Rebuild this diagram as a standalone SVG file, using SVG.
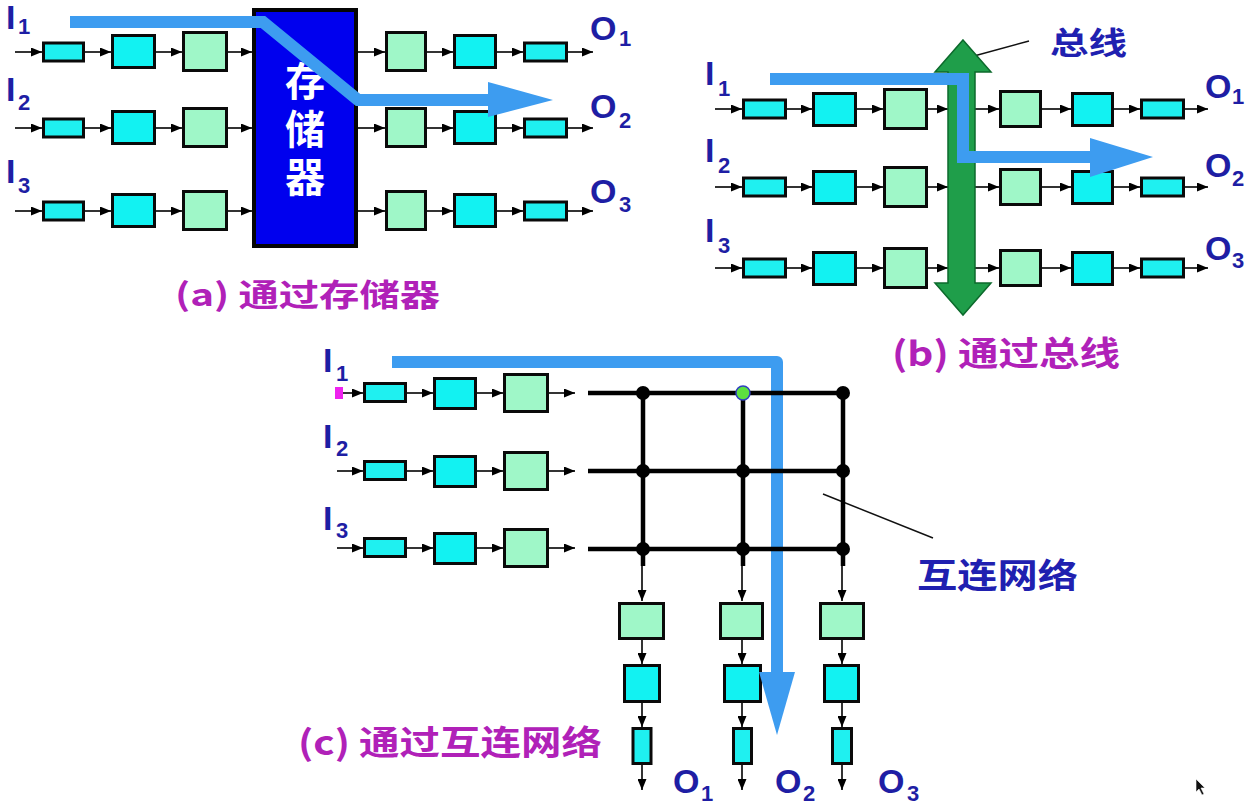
<svg xmlns="http://www.w3.org/2000/svg" width="1255" height="812" viewBox="0 0 1255 812">
<defs>
<marker id="ah" markerWidth="11" markerHeight="9" refX="11" refY="4.5" orient="auto" markerUnits="userSpaceOnUse"><path d="M0,0 L11,4.5 L0,9 z" fill="#000"/></marker>
</defs>
<style>
.ar line{stroke:#000;stroke-width:1.6;fill:none;marker-end:url(#ah)}
.sm{fill:#1ff0f0;stroke:#0a0a0a;stroke-width:3}
.cy{fill:#12f2f2;stroke:#0a0a0a;stroke-width:3}
.gr{fill:#9ff7c8;stroke:#0a0a0a;stroke-width:3}
.lbl{font-family:"Liberation Sans",Arial,sans-serif;font-weight:bold;fill:#1e1ea4}
.big{font-size:34px}
.sub{font-size:22px}
.cap{font-family:"Noto Sans CJK SC","Liberation Sans",sans-serif;font-weight:bold;fill:#b021b8}
.blu{font-family:"Noto Sans CJK SC","Liberation Sans",sans-serif;font-weight:bold;fill:#2020b0}
.flow{fill:none;stroke:#3d9cf0;stroke-width:12}
.gl{stroke:#000;stroke-width:4.5;fill:none}
.dot{fill:#000}
.thin{stroke:#111;stroke-width:1.5;fill:none}
</style>

<g id="connectors">
<g class="ar">
<!-- panel a -->
<line x1="15" y1="52" x2="42" y2="52"/><line x1="85" y1="52" x2="111" y2="52"/><line x1="156" y1="52" x2="182" y2="52"/><line x1="228" y1="52" x2="252" y2="52"/>
<line x1="358" y1="52" x2="385" y2="52"/><line x1="427" y1="52" x2="453" y2="52"/><line x1="497" y1="52" x2="523" y2="52"/><line x1="568" y1="52" x2="593" y2="52"/>
<line x1="15" y1="128" x2="42" y2="128"/><line x1="85" y1="128" x2="111" y2="128"/><line x1="156" y1="128" x2="182" y2="128"/><line x1="228" y1="128" x2="252" y2="128"/>
<line x1="358" y1="128" x2="385" y2="128"/><line x1="427" y1="128" x2="453" y2="128"/><line x1="497" y1="128" x2="523" y2="128"/><line x1="568" y1="128" x2="593" y2="128"/>
<line x1="15" y1="211" x2="42" y2="211"/><line x1="85" y1="211" x2="111" y2="211"/><line x1="156" y1="211" x2="182" y2="211"/><line x1="228" y1="211" x2="252" y2="211"/>
<line x1="358" y1="211" x2="385" y2="211"/><line x1="427" y1="211" x2="453" y2="211"/><line x1="497" y1="211" x2="523" y2="211"/><line x1="568" y1="211" x2="593" y2="211"/>
<!-- panel b -->
<line x1="715" y1="109" x2="742" y2="109"/><line x1="787" y1="109" x2="812" y2="109"/><line x1="857" y1="109" x2="883" y2="109"/><line x1="928" y1="109" x2="948" y2="109"/>
<line x1="975" y1="109" x2="999" y2="109"/><line x1="1042" y1="109" x2="1071" y2="109"/><line x1="1114" y1="109" x2="1140" y2="109"/><line x1="1185" y1="109" x2="1208" y2="109"/>
<line x1="715" y1="187" x2="742" y2="187"/><line x1="787" y1="187" x2="812" y2="187"/><line x1="857" y1="187" x2="883" y2="187"/><line x1="928" y1="187" x2="948" y2="187"/>
<line x1="975" y1="187" x2="999" y2="187"/><line x1="1042" y1="187" x2="1071" y2="187"/><line x1="1114" y1="187" x2="1140" y2="187"/><line x1="1185" y1="187" x2="1208" y2="187"/>
<line x1="715" y1="268" x2="742" y2="268"/><line x1="787" y1="268" x2="812" y2="268"/><line x1="857" y1="268" x2="883" y2="268"/><line x1="928" y1="268" x2="948" y2="268"/>
<line x1="975" y1="268" x2="999" y2="268"/><line x1="1042" y1="268" x2="1071" y2="268"/><line x1="1114" y1="268" x2="1140" y2="268"/><line x1="1185" y1="268" x2="1208" y2="268"/>
<!-- panel c inputs -->
<line x1="337" y1="393" x2="363" y2="393"/><line x1="407" y1="393" x2="433" y2="393"/><line x1="477" y1="393" x2="503" y2="393"/><line x1="549" y1="393" x2="575" y2="393"/>
<line x1="337" y1="471" x2="363" y2="471"/><line x1="407" y1="471" x2="433" y2="471"/><line x1="477" y1="471" x2="503" y2="471"/><line x1="549" y1="471" x2="575" y2="471"/>
<line x1="337" y1="548" x2="363" y2="548"/><line x1="407" y1="548" x2="433" y2="548"/><line x1="477" y1="548" x2="503" y2="548"/><line x1="549" y1="548" x2="575" y2="548"/>
<!-- panel c outputs -->
<line x1="642" y1="564" x2="642" y2="601"/><line x1="642" y1="640" x2="642" y2="664"/><line x1="642" y1="703" x2="642" y2="727"/><line x1="642" y1="765" x2="642" y2="790"/>
<line x1="742" y1="564" x2="742" y2="601"/><line x1="742" y1="640" x2="742" y2="664"/><line x1="742" y1="703" x2="742" y2="727"/><line x1="742" y1="765" x2="742" y2="790"/>
<line x1="842" y1="564" x2="842" y2="601"/><line x1="842" y1="640" x2="842" y2="664"/><line x1="842" y1="703" x2="842" y2="727"/><line x1="842" y1="765" x2="842" y2="790"/>
</g>
<line class="thin" x1="1029" y1="41" x2="963" y2="59"/>
<line class="thin" x1="823" y1="494" x2="933" y2="538"/>
</g>

<!-- panel a nodes -->
<g id="a-r1-s1"><rect class="sm" x="43.5" y="43" width="40" height="18"/></g>
<g id="a-r1-s2"><rect class="cy" x="112.5" y="35.5" width="42" height="32"/></g>
<g id="a-r1-s3"><rect class="gr" x="183.5" y="32.5" width="43" height="38"/></g>
<g id="a-r2-s1"><rect class="sm" x="43.5" y="119" width="40" height="18"/></g>
<g id="a-r2-s2"><rect class="cy" x="112.5" y="111.5" width="42" height="32"/></g>
<g id="a-r2-s3"><rect class="gr" x="183.5" y="108.5" width="43" height="38"/></g>
<g id="a-r3-s1"><rect class="sm" x="43.5" y="202" width="40" height="18"/></g>
<g id="a-r3-s2"><rect class="cy" x="112.5" y="194.5" width="42" height="32"/></g>
<g id="a-r3-s3"><rect class="gr" x="183.5" y="191.5" width="43" height="38"/></g>
<g id="a-memory">
<rect x="254" y="10" width="102" height="236" fill="#0000ee" stroke="#050505" stroke-width="4"/>
<text x="305" y="61" font-size="40" font-weight="bold" fill="#fff" font-family="Noto Sans CJK SC,sans-serif" style="writing-mode:vertical-rl" letter-spacing="8">存储器</text>
</g>
<g id="a-r1-o1"><rect class="gr" x="386.5" y="32.5" width="39" height="38"/></g>
<g id="a-r1-o2"><rect class="cy" x="454.5" y="35.5" width="41" height="32"/></g>
<g id="a-r1-o3"><rect class="sm" x="524.5" y="43" width="42" height="18"/></g>
<g id="a-r2-o1"><rect class="gr" x="386.5" y="108.5" width="39" height="38"/></g>
<g id="a-r2-o2"><rect class="cy" x="454.5" y="111.5" width="41" height="32"/></g>
<g id="a-r2-o3"><rect class="sm" x="524.5" y="119" width="42" height="18"/></g>
<g id="a-r3-o1"><rect class="gr" x="386.5" y="191.5" width="39" height="38"/></g>
<g id="a-r3-o2"><rect class="cy" x="454.5" y="194.5" width="41" height="32"/></g>
<g id="a-r3-o3"><rect class="sm" x="524.5" y="202" width="42" height="18"/></g>

<!-- panel b nodes -->
<g id="b-bus"><path d="M963,40 L991,72 L975,72 L975,283 L991,283 L963,315 L935,283 L948,283 L948,72 L935,72 Z" fill="#1f9e4a" stroke="#0c6a2c" stroke-width="1.5"/></g>
<g id="b-r1-s1"><rect class="sm" x="743.5" y="100" width="42" height="18"/></g>
<g id="b-r1-s2"><rect class="cy" x="813.5" y="93.5" width="42" height="32"/></g>
<g id="b-r1-s3"><rect class="gr" x="884.5" y="89.5" width="42" height="39"/></g>
<g id="b-r2-s1"><rect class="sm" x="743.5" y="178" width="42" height="18"/></g>
<g id="b-r2-s2"><rect class="cy" x="813.5" y="171.5" width="42" height="32"/></g>
<g id="b-r2-s3"><rect class="gr" x="884.5" y="167.5" width="42" height="39"/></g>
<g id="b-r3-s1"><rect class="sm" x="743.5" y="259" width="42" height="18"/></g>
<g id="b-r3-s2"><rect class="cy" x="813.5" y="252.5" width="42" height="32"/></g>
<g id="b-r3-s3"><rect class="gr" x="884.5" y="248.5" width="42" height="39"/></g>
<g id="b-r1-o1"><rect class="gr" x="1000.5" y="91.5" width="40" height="35"/></g>
<g id="b-r1-o2"><rect class="cy" x="1072.5" y="93.5" width="40" height="32"/></g>
<g id="b-r1-o3"><rect class="sm" x="1141.5" y="100" width="42" height="18"/></g>
<g id="b-r2-o1"><rect class="gr" x="1000.5" y="169.5" width="40" height="35"/></g>
<g id="b-r2-o2"><rect class="cy" x="1072.5" y="171.5" width="40" height="32"/></g>
<g id="b-r2-o3"><rect class="sm" x="1141.5" y="178" width="42" height="18"/></g>
<g id="b-r3-o1"><rect class="gr" x="1000.5" y="250.5" width="40" height="35"/></g>
<g id="b-r3-o2"><rect class="cy" x="1072.5" y="252.5" width="40" height="32"/></g>
<g id="b-r3-o3"><rect class="sm" x="1141.5" y="259" width="42" height="18"/></g>

<!-- panel c nodes -->
<g id="c-r1-s1"><rect class="sm" x="364.5" y="383.5" width="41" height="18"/></g>
<g id="c-r1-s2"><rect class="cy" x="434.5" y="378.5" width="41" height="30"/></g>
<g id="c-r1-s3"><rect class="gr" x="504.5" y="374.5" width="43" height="37"/></g>
<g id="c-r2-s1"><rect class="sm" x="364.5" y="461.5" width="41" height="18"/></g>
<g id="c-r2-s2"><rect class="cy" x="434.5" y="456.5" width="41" height="30"/></g>
<g id="c-r2-s3"><rect class="gr" x="504.5" y="452.5" width="43" height="37"/></g>
<g id="c-r3-s1"><rect class="sm" x="364.5" y="538.5" width="41" height="18"/></g>
<g id="c-r3-s2"><rect class="cy" x="434.5" y="533.5" width="41" height="30"/></g>
<g id="c-r3-s3"><rect class="gr" x="504.5" y="529.5" width="43" height="37"/></g>
<g id="c-col1"><rect class="gr" x="619.5" y="603.5" width="44" height="35"/><rect class="cy" x="624.5" y="665.5" width="35" height="36"/><rect class="sm" x="633" y="728.5" width="18" height="35"/></g>
<g id="c-col2"><rect class="gr" x="720.5" y="603.5" width="42" height="35"/><rect class="cy" x="724.5" y="665.5" width="36" height="36"/><rect class="sm" x="733.5" y="728.5" width="18" height="35"/></g>
<g id="c-col3"><rect class="gr" x="820.5" y="603.5" width="43" height="35"/><rect class="cy" x="824.5" y="665.5" width="34" height="36"/><rect class="sm" x="832.5" y="728.5" width="19" height="35"/></g>
<g id="c-marker"><rect x="335" y="387" width="8" height="12" fill="#ee22ee"/></g>

<!-- data flow arrows -->
<g id="flows">
<path class="flow" d="M70,22H263L358,100H492" stroke-width="11"/>
<polygon points="488,82 553,100 488,117" fill="#3d9cf0"/>
<path class="flow" d="M770,79H963V157H1092"/>
<polygon points="1090,138 1153,157 1090,177" fill="#3d9cf0"/>
<path class="flow" d="M392,362H777V675" stroke-linejoin="round"/>
<polygon points="759,672 795,672 777,735" fill="#3d9cf0"/>
</g>

<!-- interconnection network -->
<g id="c-network">
<path class="gl" d="M588,393H843M588,471H843M588,549H843M643,393V566M743,393V566M843,393V566"/>
<circle class="dot" cx="643" cy="393" r="7"/>
<circle cx="743" cy="393" r="7" fill="#5de040" stroke="#3040c0" stroke-width="1.5"/>
<circle class="dot" cx="843" cy="393" r="7"/>
<circle class="dot" cx="643" cy="471" r="7"/>
<circle class="dot" cx="743" cy="471" r="7"/>
<circle class="dot" cx="843" cy="471" r="7"/>
<circle class="dot" cx="643" cy="549" r="7"/>
<circle class="dot" cx="743" cy="549" r="7"/>
<circle class="dot" cx="843" cy="549" r="7"/>
</g>

<!-- labels -->
<g id="labels-io">
<text class="lbl big" x="6" y="29">I</text><text class="lbl sub" x="18" y="34">1</text>
<text class="lbl big" x="6" y="101">I</text><text class="lbl sub" x="18" y="110">2</text>
<text class="lbl big" x="6" y="183">I</text><text class="lbl sub" x="18" y="193">3</text>
<text class="lbl big" x="590" y="40">O</text><text class="lbl sub" x="619" y="46">1</text>
<text class="lbl big" x="590" y="118">O</text><text class="lbl sub" x="619" y="128">2</text>
<text class="lbl big" x="590" y="203">O</text><text class="lbl sub" x="619" y="212">3</text>

<text class="lbl big" x="705" y="85">I</text><text class="lbl sub" x="718" y="96">1</text>
<text class="lbl big" x="705" y="162">I</text><text class="lbl sub" x="718" y="173">2</text>
<text class="lbl big" x="705" y="242">I</text><text class="lbl sub" x="718" y="253">3</text>
<text class="lbl big" x="1205" y="98">O</text><text class="lbl sub" x="1232" y="104">1</text>
<text class="lbl big" x="1205" y="177">O</text><text class="lbl sub" x="1232" y="186">2</text>
<text class="lbl big" x="1205" y="260">O</text><text class="lbl sub" x="1232" y="268">3</text>

<text class="lbl big" x="323" y="372">I</text><text class="lbl sub" x="336" y="381">1</text>
<text class="lbl big" x="323" y="448">I</text><text class="lbl sub" x="336" y="456">2</text>
<text class="lbl big" x="323" y="530">I</text><text class="lbl sub" x="336" y="538">3</text>
<text class="lbl big" x="673" y="793">O</text><text class="lbl sub" x="701" y="801">1</text>
<text class="lbl big" x="775" y="793">O</text><text class="lbl sub" x="803" y="801">2</text>
<text class="lbl big" x="878" y="793">O</text><text class="lbl sub" x="907" y="801">3</text>
</g>

<g id="captions">
<text class="cap" x="175" y="306" font-size="31" textLength="265" lengthAdjust="spacingAndGlyphs">(a) 通过存储器</text>
<text class="cap" x="892" y="366" font-size="34" textLength="228" lengthAdjust="spacingAndGlyphs">(b) 通过总线</text>
<text class="cap" x="298" y="755" font-size="34" textLength="304" lengthAdjust="spacingAndGlyphs">(c) 通过互连网络</text>
<text class="blu" x="1050" y="54" font-size="31" textLength="77" lengthAdjust="spacingAndGlyphs">总线</text>
<text class="blu" x="917" y="588" font-size="34" textLength="161" lengthAdjust="spacingAndGlyphs">互连网络</text>
</g>

<g id="cursor"><path d="M1196,779 L1196,792 L1199,789 L1202,795 L1204,794 L1201,788 L1205,788 Z" fill="#111" stroke="#fff" stroke-width="0.6"/></g>
</svg>
